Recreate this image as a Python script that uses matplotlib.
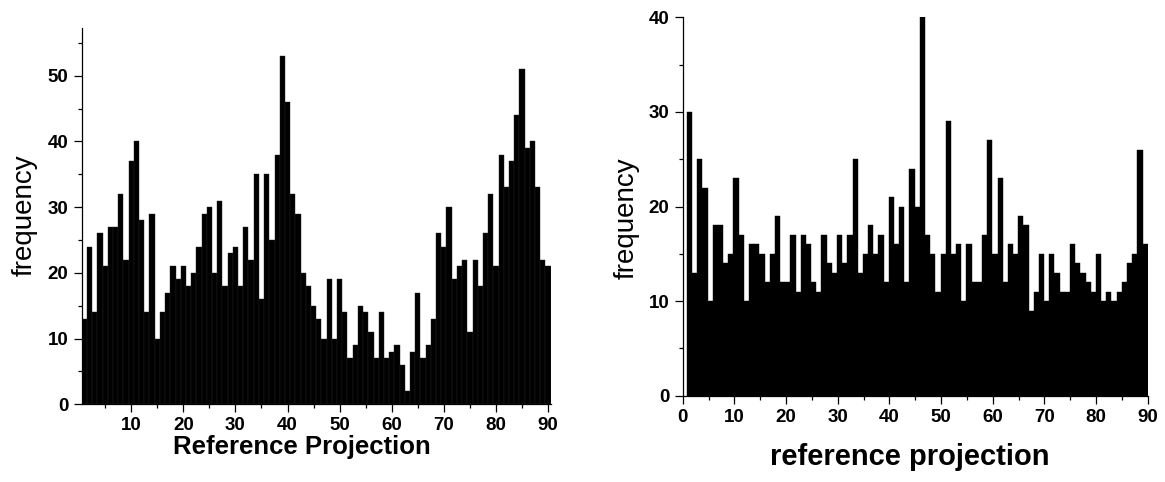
import numpy as np
import matplotlib
matplotlib.use("Agg")
import matplotlib.pyplot as plt
from matplotlib.ticker import MultipleLocator

plt.rcParams['font.family'] = ['Liberation Sans', 'DejaVu Sans']

# left panel: 90 one-degree bins
left_bins = np.arange(1, 91)
left_freq = [13, 24, 14, 26, 21, 27, 27, 32, 22, 37,
             40, 28, 14, 29, 10, 14, 17, 21, 19, 21,
             18, 20, 24, 29, 30, 20, 31, 18, 23, 24,
             18, 27, 22, 35, 16, 35, 25, 38, 53, 46,
             32, 29, 20, 18, 15, 13, 10, 19, 10, 19,
             14, 7, 9, 15, 14, 11, 7, 14, 7, 8,
             9, 6, 2, 8, 17, 7, 9, 13, 26, 24,
             30, 19, 21, 22, 11, 22, 18, 26, 32, 21,
             38, 33, 37, 44, 51, 39, 40, 33, 22, 21]

# right panel: 89 bins
right_bins = np.arange(1, 90)
right_freq = [30, 13, 25, 22, 10, 18, 18, 14, 15, 23,
              17, 10, 16, 16, 15, 12, 15, 19, 12, 12,
              17, 11, 17, 16, 12, 11, 17, 14, 13, 17,
              14, 17, 25, 13, 15, 18, 15, 17, 12, 21,
              16, 20, 12, 24, 20, 40, 17, 15, 11, 15,
              29, 15, 16, 10, 16, 12, 12, 17, 27, 15,
              23, 12, 16, 15, 19, 18, 9, 11, 15, 10,
              15, 13, 11, 11, 16, 14, 13, 12, 11, 15,
              10, 11, 10, 11, 12, 14, 15, 26, 16]

W, H = 1165, 482
fig = plt.figure(figsize=(W / 100, H / 100), dpi=100)


def px_axes(x0, x1, ytop, ybot):
    return fig.add_axes([x0 / W, 1 - ybot / H, (x1 - x0) / W, (ybot - ytop) / H])


def style(ax, ylim, xlim, ymaj):
    ax.set_xlim(*xlim)
    ax.set_ylim(*ylim)
    for s in ('top', 'right'):
        ax.spines[s].set_visible(False)
    for s in ('left', 'bottom'):
        ax.spines[s].set_linewidth(0.9)
    ax.xaxis.set_major_locator(MultipleLocator(10))
    ax.xaxis.set_minor_locator(MultipleLocator(5))
    ax.yaxis.set_major_locator(MultipleLocator(ymaj))
    ax.yaxis.set_minor_locator(MultipleLocator(ymaj / 2))
    ax.tick_params(which='major', direction='out', length=5.5, width=0.9,
                   labelsize=13.5, pad=4)
    ax.tick_params(which='minor', direction='out', length=3.2, width=0.9)
    for lab in ax.get_xticklabels() + ax.get_yticklabels():
        lab.set_fontweight('bold')


# left
ax1 = px_axes(81.7, 550.7, 28.4, 404.3)
ax1.bar(left_bins, left_freq, width=1.0, color='black', edgecolor='#262626',
        linewidth=0.3)
style(ax1, (0, 57.2), (0.5, 90.5), 10)
ax1.text(0.47, -0.113, 'Reference Projection', transform=ax1.transAxes,
         ha='center', va='center', fontsize=18.5, fontweight='bold')
ax1.text(-0.121, 0.504, 'frequency', transform=ax1.transAxes, rotation=90,
         ha='center', va='center', fontsize=20)

# right
ax2 = px_axes(682.7, 1147.7, 17.3, 395.7)
right_w = 89.2 / len(right_bins)
ax2.bar(0.8 + (right_bins - 1) * right_w, right_freq, width=right_w,
        align='edge', color='black', edgecolor='black', linewidth=0.3)
style(ax2, (0, 40), (0, 90), 10)
ax2.text(0.489, -0.162, 'reference projection', transform=ax2.transAxes,
         ha='center', va='center', fontsize=21, fontweight='bold')
ax2.text(-0.12, 0.47, 'frequency', transform=ax2.transAxes, rotation=90,
         ha='center', va='center', fontsize=20)

fig.savefig('out.png', dpi=100)
